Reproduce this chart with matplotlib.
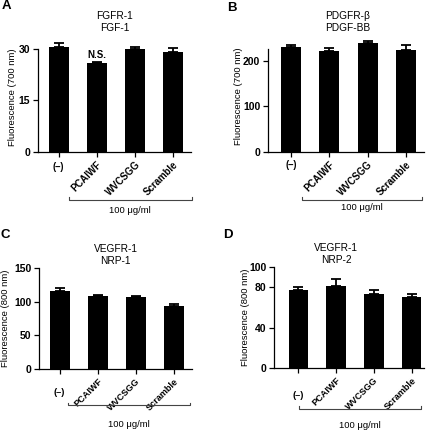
import numpy as np
import matplotlib.pyplot as plt

plt.rcParams['font.family'] = ['Liberation Sans', 'DejaVu Sans']

groups = ['(–)', 'PCAIWF', 'WVCSGG', 'Scramble']

# panel A: FGFR-1 / FGF-1
a_vals = [30.5, 25.9, 30.0, 29.0]
a_err = [1.2, 0.4, 0.5, 1.3]
# panel B: PDGFR-beta / PDGF-BB
b_vals = [229, 221, 238, 223]
b_err = [5, 7, 4, 11]
# panel C: VEGFR-1 / NRP-1
c_vals = [116, 109, 107, 94]
c_err = [5, 1, 2, 3]
# panel D: VEGFR-1 / NRP-2
d_vals = [77.5, 81.5, 73.5, 70.5]
d_err = [2.3, 7.0, 4.0, 2.7]

fig = plt.figure(figsize=(4.26, 4.40), dpi=100)
W, H = 426, 440

def px_axes(left, right, top, bottom):
    return fig.add_axes([left / W, 1 - bottom / H, (right - left) / W, (bottom - top) / H])

panels = [
    dict(vals=a_vals, err=a_err, ticks=[0, 15, 30], ylim=32, stop=30, xlim=(-0.54, 3.47),
         box=(38, 191, 42, 152), title='FGFR-1\nFGF-1', tpos=(0.5, 1.183),
         ylabel='Fluorescence (700 nm)', lx=-0.137, br=(0.27, 3.49, -0.437, -0.53),
         fs=6.9, dash_y=-0.022),
    dict(vals=b_vals, err=b_err, ticks=[0, 100, 200], ylim=245, stop=225, xlim=(-0.60, 3.47),
         box=(268, 424, 40, 152), title='PDGFR-β\nPDGF-BB', tpos=(0.513, 1.163),
         ylabel='Fluorescence (700 nm)', lx=-0.16, br=(0.29, 3.42, -0.426, -0.50),
         fs=6.9, dash_y=0.0),
    dict(vals=c_vals, err=c_err, ticks=[0, 50, 100, 150], ylim=150, stop=150, xlim=(-0.54, 3.47),
         box=(39, 192, 268, 369), title='VEGFR-1\nNRP-1', tpos=(0.5, 1.127),
         ylabel='Fluorescence (800 nm)', lx=-0.19, br=(0.22, 3.42, -0.357, -0.546),
         fs=6.6, dash_y=-0.113),
    dict(vals=d_vals, err=d_err, ticks=[0, 40, 80, 100], ylim=100, stop=100, xlim=(-0.65, 3.33),
         box=(274, 424, 267, 368), title='VEGFR-1\nNRP-2', tpos=(0.413, 1.127),
         ylabel='Fluorescence (800 nm)', lx=-0.16, br=(0.01, 3.24, -0.401, -0.57),
         fs=6.6, dash_y=-0.15),
]

axes = []
for p in panels:
    ax = px_axes(*p['box'])
    axes.append(ax)
    x = np.arange(len(groups))
    ax.bar(x, p['vals'], width=0.52, color='black', zorder=2)
    ax.errorbar(x, p['vals'], yerr=[np.zeros(len(x)), p['err']], fmt='none',
                ecolor='black', elinewidth=1.3, capsize=3.3, capthick=1.3, zorder=1,
                clip_on=False)
    ax.set_xlim(*p['xlim'])
    ax.set_ylim(0, p['ylim'])
    ax.set_yticks(p['ticks'])
    ax.set_yticklabels([str(t) for t in p['ticks']], fontsize=7.5, fontweight='bold')
    ax.set_xticks(x)
    ax.set_xticklabels(groups, rotation=45, ha='right', rotation_mode='anchor',
                       fontsize=p['fs'], fontweight='bold')
    # the "(-)" control label sits flat under its bar
    lbl = ax.get_xticklabels()[0]
    lbl.set_rotation(0)
    lbl.set_ha('center')
    lbl.set_va('top')
    lbl.set_y(p['dash_y'])
    for s in ['top', 'right']:
        ax.spines[s].set_visible(False)
    ax.spines['left'].set_bounds(0, p['stop'])
    for s in ['left', 'bottom']:
        ax.spines[s].set_linewidth(0.9)
    ax.tick_params(direction='out', length=3.5, width=0.9, pad=2)
    ax.set_ylabel(p['ylabel'], fontsize=6.8)
    ax.yaxis.set_label_coords(p['lx'], 0.5)
    ax.text(p['tpos'][0], p['tpos'][1], p['title'], transform=ax.transAxes,
            ha='center', va='center', fontsize=7.3, linespacing=1.25)
    x0, x1, yb, yt = p['br']
    tr = ax.get_xaxis_transform()
    ax.plot([x0, x0, x1, x1], [yb + 0.025, yb, yb, yb + 0.025], color='#444444',
            lw=0.8, transform=tr, clip_on=False)
    ax.text((x0 + x1) / 2, yt, '100 μg/ml', transform=tr, ha='center', va='center',
            fontsize=6.8)

# N.S. label over PCAIWF in panel A
axes[0].text(1, a_vals[1] + a_err[1] + 0.6, 'N.S.', ha='center', va='bottom',
             fontsize=7, fontweight='bold')

for lab, (lx, ly) in zip('ABCD', [(6, 6), (232, 8), (5, 235), (228, 235)]):
    fig.text(lx / W, 1 - ly / H, lab, ha='center', va='center', fontsize=9.5,
             fontweight='bold')

fig.savefig('out.png', dpi=100)
